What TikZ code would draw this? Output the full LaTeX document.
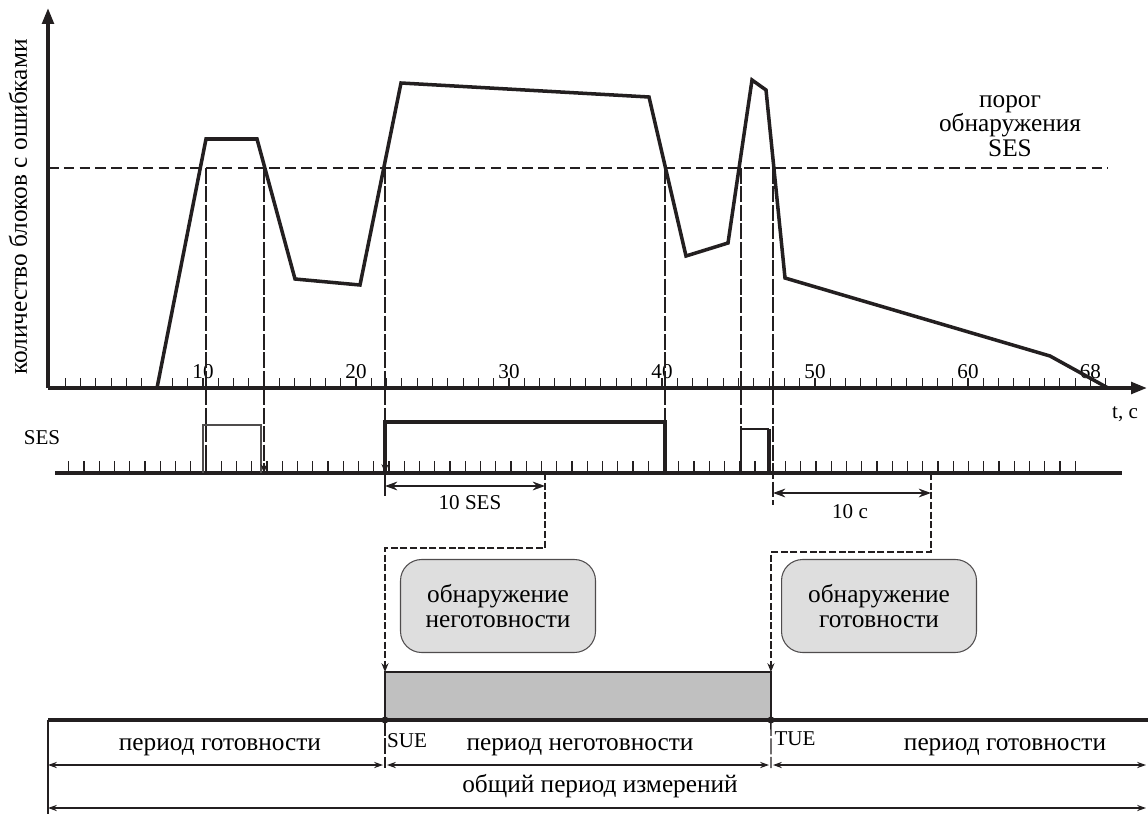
\documentclass[tikz,border=0pt]{standalone}
\usepackage{fontspec}
\setmainfont{Liberation Serif}
\usetikzlibrary{arrows.meta}
\definecolor{ink}{RGB}{35,31,32}
\definecolor{boxgray}{RGB}{222,222,222}
\definecolor{bargray}{RGB}{192,192,192}

\begin{document}
\begin{tikzpicture}[x=0.02cm,y=-0.02cm]
  \tikzstyle{every node}=[font=\fontsize{14.4}{13.8}\selectfont,inner sep=0pt,outer sep=0pt]
  \tikzstyle{small}=[font=\fontsize{12}{14}\selectfont]
  \tikzstyle{axis}=[ink,line width=2pt]
  \tikzstyle{tick}=[ink,line width=0.6pt]
  \tikzstyle{graph}=[ink,line width=2pt,line join=miter]
  \tikzstyle{guide}=[ink,line width=0.8pt,dash pattern=on 9pt off 1.5pt]
  \tikzstyle{link}=[ink,line width=0.8pt,dash pattern=on 4pt off 1.5pt]
  \tikzstyle{dim}=[ink,line width=0.9pt,{Stealth[length=7pt,width=5pt]}-{Stealth[length=7pt,width=5pt]}]
  \tikzstyle{span}=[ink,line width=0.9pt,{Stealth[length=5pt,width=3.5pt]}-{Stealth[length=5pt,width=3.5pt]}]
  \tikzstyle{detbox}=[draw=ink!80,fill=boxgray,rounded corners=12pt,align=center,
                      minimum width=3.9cm,minimum height=1.86cm,line width=0.6pt]

  \useasboundingbox (0,0) rectangle (1148,814);

  % axes of the error count
  \coordinate (O) at (48,388);
  \draw[axis,-{Triangle[length=9pt,width=6.5pt]}] (O) -- (48,8);
  \draw[axis,-{Triangle[length=9pt,width=6.5pt]}] (O) -- (1147,388);
  \foreach \t in {1,...,69}
    \draw[tick] ({50+15.3*\t},388) -- ++(0,-10);
  \foreach \t in {10,20,30,40,50,60,68}
    \node[small,anchor=base] (num\t) at ({50+15.3*\t},378) {\t};
  \node[small] (tlbl) at (1125,414) {t, с};
  \node[rotate=90] (ylbl) at (18,207) {количество блоков с ошибками};

  % detection threshold
  \draw[ink,line width=0.9pt,dash pattern=on 6pt off 3pt] (48,168) -- (1108,168);
  \node[align=center] (thr) at (1010,126) {порог\\обнаружения\\SES};

  % error count
  \draw[graph] (157,388) -- (206,139) -- (257,139) -- (295,279) -- (360,285)
    -- (401,83) -- (649,97) -- (686,256) -- (728,243) -- (752,80) -- (766,90)
    -- (785,278) -- (1050,356) -- (1108,388);

  % SES seconds
  \node[small] (seslbl) at (42,438) {SES};
  \draw[axis] (55,473) -- (1122,473);
  \foreach \t in {1,...,67}
    \draw[tick] ({53.5+15.25*\t},473) -- ++(0,-12);
  \draw[ink!80,line width=1.3pt] (203,473) |- (261,425) -- (261,473);
  \draw[ink,line width=2pt] (385,473) |- (665,422) -- (665,473);
  \draw[ink,line width=1.3pt] (741,473) |- (769,429);
  \draw[ink,line width=2pt] (769,429) -- (769,473);

  % threshold crossings
  \draw[guide] (206,168) -- (206,473);
  \draw[guide,-{Stealth[length=5pt,width=4pt]}] (264,168) -- (264,473);
  \draw[guide,-{Stealth[length=5pt,width=4pt]}] (385,168) -- (385,473);
  \draw[guide] (665,168) -- (665,473);
  \draw[guide] (741,168) -- (741,473);
  \draw[guide] (773,168) -- (773,505);

  % unavailable time
  \node[draw=ink,fill=bargray,line width=1.2pt,minimum width=7.72cm,minimum height=0.96cm,
        anchor=south west] (bar) at (385,720) {};
  \coordinate (sesEnd) at (545,473);
  \coordinate (secEnd) at (931,473);
  \draw[ink,line width=0.8pt] (385,473) -- (385,496);
  \draw[dim] (385,486) -- (sesEnd |- 0,486);
  \node[small] (ses10) at (470,503) {10 SES};
  \draw[link,-{Stealth[length=5pt,width=4pt]}] (sesEnd) -- ++(0,75) -| (bar.north west);
  \draw[dim] (773,493) -- (secEnd |- 0,493);
  \node[small] (sec10) at (850,512) {10 с};
  \draw[link,-{Stealth[length=5pt,width=4pt]}] (secEnd) -- ++(0,79) -| (bar.north east);

  \node[detbox] (detU) at (498,606) {обнаружение\\неготовности};
  \node[detbox] (detA) at (879,606) {обнаружение\\готовности};

  % periods
  \draw[ink,line width=2.3pt] (48,720) -- (1148,720);
  \draw[ink,line width=1.2pt] (48,720) -- (48,814);
  \draw[guide] (bar.south west) -- (385,768);
  \draw[guide] (bar.south east) -- (771,768);
  \fill[ink] (bar.south west) circle (2pt);
  \fill[ink] (bar.south east) circle (2pt);
  \node[small] (sue) at (407,741) {SUE};
  \node[small] (tue) at (795,739) {TUE};
  \node (rdy1) at (220,747) {период готовности};
  \node (unrdy) at (580,747) {период неготовности};
  \node (rdy2) at (1005,747) {период готовности};
  \draw[span] (48,765) -- (383,765);
  \draw[span] (387,765) -- (769,765);
  \draw[span] (773,765) -- (1146,765);
  \node (total) at (600,786) {общий период измерений};
  \draw[span] (48,808) -- (1146,808);
\end{tikzpicture}
\end{document}
